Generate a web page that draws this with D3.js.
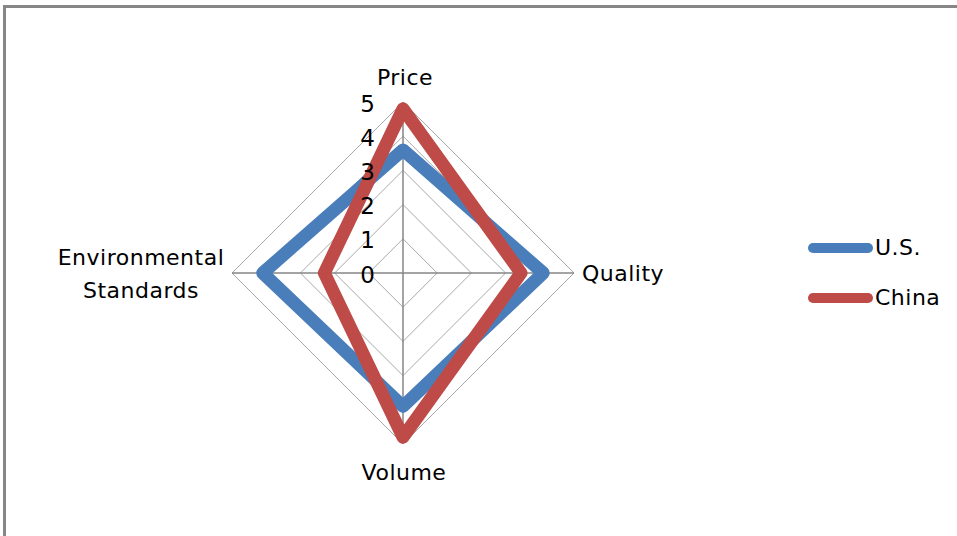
<!DOCTYPE html>
<html>
<head>
<meta charset="utf-8">
<script src="https://cdn.jsdelivr.net/npm/d3@7"></script>
<style>
  body { margin: 0; background: #fff; }
  svg { display: block; }
  text { font-family: "DejaVu Sans", sans-serif; fill: #000; }
</style>
</head>
<body>
<svg id="chart" width="957" height="536"></svg>
<script>
// Radar chart: U.S. vs China ratings on four criteria
const axisNames = ["Price", "Quality", "Volume", "Environmental Standards"];
const seriesNames = ["U.S.", "China"];
const usValues = [3.6, 4.1, 3.9, 4.1];
const chinaValues = [4.8, 3.45, 4.8, 2.3];
const tickValues = [0, 1, 2, 3, 4, 5];
const seriesColors = ["#4a7ebb", "#be4b48"];

const svg = d3.select("#chart");
const cx = 403, cy = 273, R = 171;

// chart area border (open on the right and bottom)
svg.append("path")
  .attr("d", "M4.5,540 V6.5 H960")
  .attr("fill", "none")
  .attr("stroke", "#868686")
  .attr("stroke-width", 3);

const rScale = d3.scaleLinear().domain([0, 5]).range([0, R]);
const angle = d3.scalePoint().domain(d3.range(axisNames.length + 1)).range([0, 2 * Math.PI]);

const g = svg.append("g").attr("transform", `translate(${cx},${cy})`);

const radial = d3.lineRadial()
  .angle((d, i) => angle(i))
  .radius(d => rScale(d))
  .curve(d3.curveLinearClosed);

// concentric grid rings
g.selectAll(".ring")
  .data(tickValues.filter(t => t > 0))
  .join("path")
  .attr("class", "ring")
  .attr("d", t => radial(axisNames.map(() => t)))
  .attr("fill", "none")
  .attr("stroke", "#a8a8a8")
  .attr("stroke-width", 1);

// spokes
g.selectAll(".spoke")
  .data(axisNames)
  .join("line")
  .attr("class", "spoke")
  .attr("x1", 0).attr("y1", 0)
  .attr("x2", (d, i) => rScale(5) * Math.sin(angle(i)))
  .attr("y2", (d, i) => -rScale(5) * Math.cos(angle(i)))
  .attr("stroke", "#868686")
  .attr("stroke-width", 1.5);

// series polygons
const seriesData = [usValues, chinaValues];
g.selectAll(".series")
  .data(seriesData)
  .join("path")
  .attr("class", "series")
  .attr("d", d => radial(d))
  .attr("fill", "none")
  .attr("stroke", (d, i) => seriesColors[i])
  .attr("stroke-width", 13)
  .attr("stroke-linejoin", "round");

// value labels along the top spoke
g.selectAll(".tick")
  .data(tickValues)
  .join("text")
  .attr("class", "tick")
  .attr("x", -28)
  .attr("y", t => -rScale(t) + 3)
  .attr("text-anchor", "end")
  .attr("dominant-baseline", "middle")
  .attr("font-size", 23)
  .text(t => t);

// category labels
const labelFont = 22;
const lab = svg.append("g").attr("font-size", labelFont).attr("letter-spacing", 0.5);
lab.append("text").attr("x", 405).attr("y", 85).attr("text-anchor", "middle").text(axisNames[0]);
lab.append("text").attr("x", 582).attr("y", 281).attr("text-anchor", "start").text(axisNames[1]);
lab.append("text").attr("x", 404).attr("y", 480).attr("text-anchor", "middle").text(axisNames[2]);
const envWords = axisNames[3].split(" ");
lab.append("text").attr("x", 141).attr("y", 265).attr("text-anchor", "middle").text(envWords[0]);
lab.append("text").attr("x", 141).attr("y", 298).attr("text-anchor", "middle").text(envWords[1]);

// legend
const legend = svg.append("g")
  .selectAll("g")
  .data(seriesNames)
  .join("g")
  .attr("transform", (d, i) => `translate(0,${248 + i * 50})`);
legend.append("line")
  .attr("x1", 813).attr("x2", 868)
  .attr("y1", 0).attr("y2", 0)
  .attr("stroke", (d, i) => seriesColors[i])
  .attr("stroke-width", 10)
  .attr("stroke-linecap", "round");
legend.append("text")
  .attr("x", 875)
  .attr("y", 7)
  .attr("font-size", labelFont)
  .attr("letter-spacing", 0.5)
  .text(d => d);
</script>
</body>
</html>
